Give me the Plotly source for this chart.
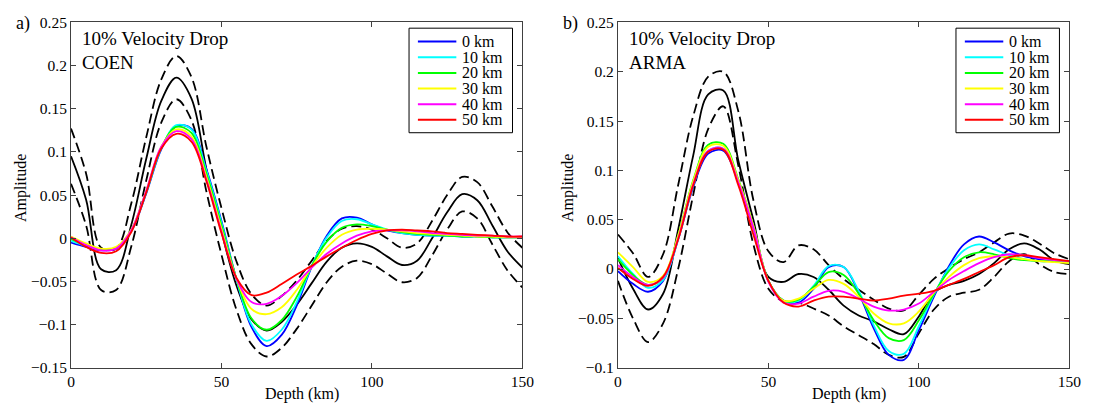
import plotly.graph_objects as go

W, H = 1102, 416

depth = list(range(0, 151, 5))
offsets = ["0 km", "10 km", "20 km", "30 km", "40 km", "50 km"]
colors = ["#0000FF", "#00FFFF", "#00FF00", "#FFFF00", "#FF00FF", "#FF0000"]

# ---------------- Panel a) COEN ----------------
coen_0 = [-0.005, -0.010, -0.014, -0.012, 0.008, 0.052, 0.103, 0.130, 0.127, 0.080, 0.020, -0.048, -0.103, -0.125, -0.112,
          -0.078, -0.033, 0.003, 0.023, 0.024, 0.016, 0.009, 0.006, 0.004, 0.003, 0.003, 0.002, 0.002, 0.001, 0.001, 0.001]
coen_10 = [-0.003, -0.009, -0.013, -0.011, 0.009, 0.053, 0.104, 0.131, 0.126, 0.078, 0.018, -0.048, -0.100, -0.119, -0.106,
           -0.074, -0.032, 0.001, 0.020, 0.022, 0.016, 0.010, 0.006, 0.004, 0.003, 0.003, 0.002, 0.002, 0.001, 0.001, 0.001]
coen_20 = [-0.001, -0.008, -0.013, -0.011, 0.009, 0.054, 0.105, 0.129, 0.122, 0.075, 0.015, -0.047, -0.093, -0.106, -0.095,
           -0.068, -0.032, -0.004, 0.012, 0.016, 0.014, 0.010, 0.007, 0.005, 0.004, 0.003, 0.002, 0.002, 0.001, 0.001, 0.001]
coen_30 = [0.002, -0.006, -0.012, -0.010, 0.010, 0.055, 0.106, 0.126, 0.118, 0.071, 0.011, -0.047, -0.082, -0.088, -0.080,
           -0.060, -0.033, -0.011, 0.004, 0.010, 0.011, 0.010, 0.008, 0.006, 0.005, 0.004, 0.003, 0.002, 0.002, 0.001, 0.001]
coen_40 = [0.001, -0.008, -0.014, -0.012, 0.009, 0.055, 0.106, 0.124, 0.115, 0.068, 0.008, -0.047, -0.074, -0.076, -0.067,
           -0.052, -0.034, -0.018, -0.006, 0.003, 0.008, 0.009, 0.009, 0.008, 0.006, 0.005, 0.004, 0.003, 0.003, 0.002, 0.002]
coen_50 = [0.001, -0.010, -0.017, -0.015, 0.007, 0.053, 0.104, 0.121, 0.112, 0.066, 0.006, -0.046, -0.066, -0.063, -0.053,
           -0.042, -0.032, -0.021, -0.011, -0.002, 0.005, 0.009, 0.010, 0.009, 0.008, 0.006, 0.005, 0.004, 0.003, 0.002, 0.002]
coen_mean = [0.095, 0.045, -0.036, -0.037, 0.015, 0.092, 0.159, 0.186, 0.162, 0.080, 0.008, -0.055, -0.094, -0.107, -0.097,
             -0.077, -0.052, -0.027, -0.011, -0.006, -0.010, -0.021, -0.031, -0.026, 0.000, 0.030, 0.051, 0.044, 0.015, -0.015, -0.034]
coen_upper = [0.127, 0.075, -0.011, -0.012, 0.040, 0.117, 0.184, 0.211, 0.187, 0.106, 0.035, -0.027, -0.065, -0.078, -0.067,
              -0.049, -0.026, -0.003, 0.011, 0.014, 0.010, 0.000, -0.011, -0.006, 0.020, 0.050, 0.071, 0.065, 0.037, 0.007, -0.011]
coen_lower = [0.063, 0.015, -0.060, -0.060, -0.010, 0.067, 0.134, 0.161, 0.137, 0.054, -0.019, -0.083, -0.123, -0.137, -0.127,
              -0.105, -0.078, -0.051, -0.033, -0.026, -0.030, -0.041, -0.051, -0.046, -0.020, 0.010, 0.031, 0.023, -0.007, -0.037, -0.057]

# ---------------- Panel b) ARMA ----------------
arma_0 = [-0.002, -0.015, -0.023, -0.012, 0.030, 0.083, 0.117, 0.120, 0.088, 0.042, -0.012, -0.032, -0.034, -0.020, 0.002,
          0.002, -0.024, -0.060, -0.087, -0.092, -0.062, -0.028, 0.003, 0.025, 0.033, 0.027, 0.019, 0.013, 0.010, 0.008, 0.007]
arma_10 = [0.013, -0.005, -0.019, -0.011, 0.030, 0.085, 0.120, 0.122, 0.089, 0.043, -0.012, -0.033, -0.032, -0.017, 0.003,
           0.002, -0.022, -0.057, -0.083, -0.086, -0.058, -0.026, 0.001, 0.019, 0.025, 0.020, 0.014, 0.010, 0.008, 0.008, 0.007]
arma_20 = [0.010, -0.006, -0.016, -0.009, 0.034, 0.090, 0.126, 0.127, 0.091, 0.044, -0.012, -0.032, -0.031, -0.018, -0.003,
           -0.006, -0.025, -0.052, -0.070, -0.072, -0.052, -0.025, -0.002, 0.012, 0.017, 0.015, 0.011, 0.009, 0.008, 0.008, 0.008]
arma_30 = [0.017, 0.002, -0.013, -0.007, 0.034, 0.089, 0.124, 0.125, 0.090, 0.044, -0.012, -0.032, -0.030, -0.020, -0.011,
           -0.015, -0.028, -0.045, -0.055, -0.055, -0.043, -0.024, -0.008, 0.004, 0.011, 0.013, 0.012, 0.010, 0.008, 0.007, 0.006]
arma_40 = [0.004, -0.008, -0.016, -0.009, 0.031, 0.086, 0.120, 0.122, 0.088, 0.042, -0.013, -0.034, -0.035, -0.028, -0.022,
           -0.023, -0.030, -0.038, -0.042, -0.041, -0.035, -0.023, -0.011, -0.002, 0.006, 0.012, 0.015, 0.014, 0.011, 0.009, 0.008]
arma_50 = [0.001, -0.010, -0.017, -0.008, 0.030, 0.085, 0.119, 0.121, 0.085, 0.035, -0.012, -0.034, -0.038, -0.032, -0.028,
           -0.028, -0.030, -0.032, -0.030, -0.027, -0.025, -0.022, -0.016, -0.010, -0.003, 0.004, 0.012, 0.014, 0.012, 0.010, 0.008]
arma_mean = [0.011, -0.020, -0.041, -0.025, 0.040, 0.115, 0.177, 0.181, 0.110, 0.050, -0.008, -0.013, -0.005, -0.008, -0.021,
             -0.037, -0.047, -0.053, -0.061, -0.066, -0.048, -0.024, -0.016, -0.012, -0.005, 0.006, 0.020, 0.026, 0.020, 0.009, 0.005]
arma_upper = [0.035, 0.016, -0.008, 0.015, 0.085, 0.155, 0.195, 0.200, 0.160, 0.070, 0.018, 0.007, 0.024, 0.020, 0.004,
              -0.010, -0.021, -0.031, -0.040, -0.042, -0.026, -0.010, 0.001, 0.010, 0.017, 0.027, 0.036, 0.034, 0.026, 0.016, 0.010]
arma_lower = [-0.012, -0.050, -0.074, -0.055, 0.000, 0.075, 0.142, 0.165, 0.105, 0.025, -0.020, -0.033, -0.034, -0.040, -0.047,
              -0.058, -0.067, -0.076, -0.087, -0.089, -0.065, -0.041, -0.028, -0.024, -0.021, -0.008, 0.008, 0.015, 0.005, -0.003, -0.005]

panels = [
    dict(name="COEN", curves=[coen_0, coen_10, coen_20, coen_30, coen_40, coen_50],
         mean=coen_mean, upper=coen_upper, lower=coen_lower, label="a)"),
    dict(name="ARMA", curves=[arma_0, arma_10, arma_20, arma_30, arma_40, arma_50],
         mean=arma_mean, upper=arma_upper, lower=arma_lower, label="b)"),
]

x_ticks = [0, 50, 100, 150]
y_ticks = [0.25, 0.2, 0.15, 0.1, 0.05, 0, -0.05, -0.1, -0.15]
y_ticktext = ["0.25", "0.2", "0.15", "0.1", "0.05", "0", "\u22120.05", "\u22120.1", "\u22120.15"]
y_ranges = [[-0.15, 0.25], [-0.1, 0.25]]
title_text = "10% Velocity Drop"

FONT = "Liberation Serif"

# pixel layout of the two axes boxes
ax_left = [68, 623]
ax_w = 458
ax_top, ax_bot = 14, 374

def px(x):
    return x / W

def py(y):
    return 1 - y / H

fig = go.Figure()
shapes = []
annotations = []

for i, p in enumerate(panels):
    xa = "x" if i == 0 else "x2"
    ya = "y" if i == 0 else "y2"
    dash_style = dict(color="black", width=1.8, dash="10px,5px", shape="spline", smoothing=1.0)
    fig.add_trace(go.Scatter(x=depth, y=p["upper"], mode="lines", line=dash_style,
                             xaxis=xa, yaxis=ya, showlegend=False, hoverinfo="skip"))
    fig.add_trace(go.Scatter(x=depth, y=p["lower"], mode="lines", line=dash_style,
                             xaxis=xa, yaxis=ya, showlegend=False, hoverinfo="skip"))
    fig.add_trace(go.Scatter(x=depth, y=p["mean"], mode="lines",
                             line=dict(color="black", width=1.8, shape="spline", smoothing=1.0),
                             xaxis=xa, yaxis=ya, showlegend=False, hoverinfo="skip"))
    for name, col, ys in zip(offsets, colors, p["curves"]):
        fig.add_trace(go.Scatter(x=depth, y=ys, mode="lines", name=name,
                                 line=dict(color=col, width=1.8, shape="spline", smoothing=1.0),
                                 xaxis=xa, yaxis=ya, showlegend=False))

    L = ax_left[i]
    # panel label
    annotations.append(dict(text=p["label"], x=px(L - 58), y=py(15), xref="paper", yref="paper",
                            xanchor="left", yanchor="middle", showarrow=False,
                            font=dict(family=FONT, size=18, color="black")))
    # in-plot title
    annotations.append(dict(text=title_text, x=px(L + 9), y=py(31), xref="paper", yref="paper",
                            xanchor="left", yanchor="middle", showarrow=False,
                            font=dict(family=FONT, size=19, color="black")))
    annotations.append(dict(text=p["name"], x=px(L + 9), y=py(56), xref="paper", yref="paper",
                            xanchor="left", yanchor="middle", showarrow=False,
                            font=dict(family=FONT, size=19, color="black")))
    # axis titles
    annotations.append(dict(text="Amplitude", x=px(L - 50), y=py(187), xref="paper", yref="paper",
                            xanchor="center", yanchor="middle", showarrow=False, textangle=-90,
                            font=dict(family=FONT, size=16, color="black")))
    annotations.append(dict(text="Depth (km)", x=px(L + 234), y=py(401), xref="paper", yref="paper",
                            xanchor="center", yanchor="middle", showarrow=False,
                            font=dict(family=FONT, size=16, color="black")))
    # custom legend box
    lx0, lx1, ly0, ly1 = L + 343, L + 448, 20, 129
    shapes.append(dict(type="rect", xref="paper", yref="paper", x0=px(lx0), x1=px(lx1),
                       y0=py(ly1), y1=py(ly0), line=dict(color="black", width=1), fillcolor="white",
                       layer="above"))
    for k, (name, col) in enumerate(zip(offsets, colors)):
        yc = 34 + k * 16.3
        shapes.append(dict(type="line", xref="paper", yref="paper", x0=px(L + 352), x1=px(L + 391),
                           y0=py(yc), y1=py(yc), line=dict(color=col, width=2), layer="above"))
        annotations.append(dict(text=name, x=px(L + 395), y=py(yc), xref="paper", yref="paper",
                                xanchor="left", yanchor="middle", showarrow=False,
                                font=dict(family=FONT, size=16, color="black")))

axis_common = dict(showgrid=False, zeroline=False, showline=True, linecolor="#404040", linewidth=1,
                   mirror="ticks", ticks="inside", ticklen=5, tickcolor="#404040",
                   tickfont=dict(family=FONT, size=15.5, color="black"))

fig.update_layout(
    width=W, height=H,
    margin=dict(l=0, r=0, t=0, b=0),
    paper_bgcolor="white", plot_bgcolor="white",
    showlegend=False,
    font=dict(family=FONT),
    xaxis=dict(domain=[px(ax_left[0]), px(ax_left[0] + ax_w)], range=[0, 150], tickvals=x_ticks,
               anchor="y", **axis_common),
    yaxis=dict(domain=[py(ax_bot), py(ax_top)], range=y_ranges[0], tickvals=y_ticks, ticktext=y_ticktext,
               anchor="x", **axis_common),
    xaxis2=dict(domain=[px(ax_left[1]), px(ax_left[1] + ax_w)], range=[0, 150], tickvals=x_ticks,
                anchor="y2", **axis_common),
    yaxis2=dict(domain=[py(ax_bot), py(ax_top)], range=y_ranges[1], tickvals=y_ticks, ticktext=y_ticktext,
                anchor="x2", **axis_common),
    shapes=shapes,
    annotations=annotations,
)

fig.write_html("out.html")
